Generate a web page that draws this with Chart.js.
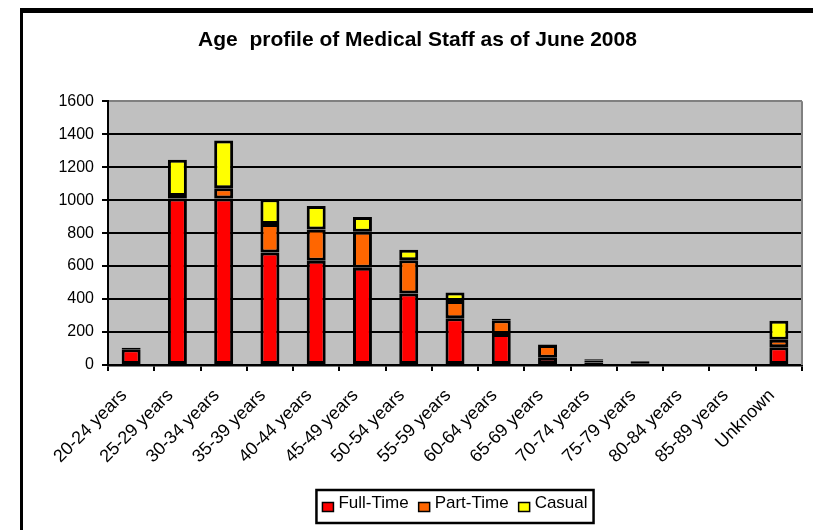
<!DOCTYPE html>
<html>
<head>
<meta charset="utf-8">
<script src="https://cdn.jsdelivr.net/npm/chart.js@4.4.1/dist/chart.umd.min.js"></script>
<style>
    html, body { margin: 0; padding: 0; background: #fff; }
    #wrap { position: relative; width: 813px; height: 530px; }
</style>
</head>
<body>
<div id="wrap"><canvas id="staff-chart" width="813" height="530"></canvas></div>
<script>
// Données
const ageGroups = ['20-24 years', '25-29 years', '30-34 years', '35-39 years', '40-44 years',
    '45-49 years', '50-54 years', '55-59 years', '60-64 years', '65-69 years',
    '70-74 years', '75-79 years', '80-84 years', '85-89 years', 'Unknown'];
const fullTime = [95, 1010, 1010, 683, 632, 590, 434, 283, 188, 44, 15, 10, 0, 0, 108];
const partTime = [8, 15, 62, 172, 190, 218, 202, 105, 83, 78, 13, 8, 0, 0, 45];
const casual = [2, 220, 290, 150, 143, 90, 63, 52, 10, 3, 7, 4, 0, 0, 115];
const seriesNames = ['Full-Time', 'Part-Time', 'Casual'];
const seriesColors = ['#FF0000', '#FF6600', '#FFFF00'];
const yMax = 1600;
const yStep = 200;

const FONT = '"Liberation Sans", Arial, sans-serif';

// Cadre noir + fond gris de la zone de tracé
const frameAndBackground = {
    id: 'frameAndBackground',
    beforeDraw(chart) {
        const ctx = chart.ctx;
        const a = chart.chartArea;
        ctx.save();
        ctx.fillStyle = '#FFFFFF';
        ctx.fillRect(0, 0, chart.width, chart.height);
        ctx.fillStyle = '#000000';
        ctx.fillRect(20, 8, chart.width - 20, 5);
        ctx.fillRect(20, 8, 3, chart.height - 8);
        ctx.fillStyle = '#C0C0C0';
        ctx.fillRect(a.left, a.top, a.right - a.left, a.bottom - a.top);
        ctx.restore();
    },
    beforeDatasetsDraw(chart) {
        const ctx = chart.ctx;
        const a = chart.chartArea;
        ctx.save();
        ctx.strokeStyle = '#808080';
        ctx.lineWidth = 2;
        ctx.beginPath();
        ctx.moveTo(a.right, a.top);
        ctx.lineTo(a.right, a.bottom);
        ctx.stroke();
        ctx.restore();
    }
};

// Légende encadrée, centrée sous la zone de tracé
const boxedLegend = {
    id: 'boxedLegend',
    afterDraw(chart) {
        const ctx = chart.ctx;
        const a = chart.chartArea;
        ctx.save();
        ctx.font = '17px ' + FONT;
        const items = chart.data.datasets.map(ds => ({
            label: ds.label,
            color: ds.backgroundColor,
            w: ctx.measureText(ds.label).width
        }));
        const pad = 6, sq = 11, gap = 5, itemGap = 10;
        const total = pad * 2 + items.reduce((s, it) => s + sq + gap + it.w, 0) + itemGap * (items.length - 1);
        const top = 490, h = 33;
        let x = (a.left + a.right) / 2 - total / 2;
        ctx.strokeStyle = '#000';
        ctx.lineWidth = 2.5;
        ctx.strokeRect(x, top, total, h);
        x += pad;
        const midY = top + h / 2;
        items.forEach(it => {
            ctx.fillStyle = it.color;
            ctx.fillRect(x, midY - 4, sq, 9);
            ctx.lineWidth = 1.5;
            ctx.strokeRect(x, midY - 4, sq, 9);
            ctx.fillStyle = '#000';
            ctx.textBaseline = 'middle';
            ctx.textAlign = 'left';
            ctx.fillText(it.label, x + sq + gap, midY - 3);
            x += sq + gap + it.w + itemGap;
        });
        ctx.restore();
    }
};

const seriesData = [fullTime, partTime, casual];

new Chart(document.getElementById('staff-chart'), {
    type: 'bar',
    data: {
        labels: ageGroups,
        datasets: seriesNames.map((name, i) => ({
            label: name,
            data: seriesData[i],
            backgroundColor: seriesColors[i],
            borderColor: '#000000',
            borderWidth: 3,
            borderSkipped: false,
            inflateAmount: 0,
            categoryPercentage: 0.5,
            barPercentage: 0.82
        }))
    },
    options: {
        responsive: false,
        animation: false,
        layout: { padding: { left: 33, right: 11, top: 0, bottom: 0 } },
        plugins: {
            legend: { display: false },
            tooltip: { enabled: false },
            title: {
                display: true,
                text: 'Age  profile of Medical Staff as of June 2008',
                color: '#000',
                font: { family: FONT, size: 21, weight: 'bold' },
                padding: { top: 28, bottom: 48 }
            }
        },
        scales: {
            x: {
                stacked: true,
                afterFit: s => { s.height = 165; },
                grid: {
                    offset: true,
                    drawOnChartArea: false,
                    color: '#000',
                    tickColor: '#000',
                    lineWidth: 2,
                    tickLength: 6
                },
                border: { color: '#000', width: 2.5 },
                ticks: {
                    autoSkip: false,
                    maxRotation: 45,
                    minRotation: 45,
                    padding: 14,
                    labelOffset: -7,
                    color: '#000',
                    font: { family: FONT, size: 18 }
                }
            },
            y: {
                stacked: true,
                min: 0,
                max: yMax,
                afterFit: s => { s.width = 75; },
                grid: {
                    color: c => (c.tick && c.tick.value === yMax) ? '#808080' : '#000',
                    tickColor: '#000',
                    lineWidth: 2,
                    tickLength: 6
                },
                border: { color: '#000', width: 2 },
                ticks: {
                    stepSize: yStep,
                    padding: 8,
                    color: '#000',
                    font: { family: FONT, size: 16 },
                    callback: v => String(v)
                }
            }
        }
    },
    plugins: [frameAndBackground, boxedLegend]
});
</script>
</body>
</html>
